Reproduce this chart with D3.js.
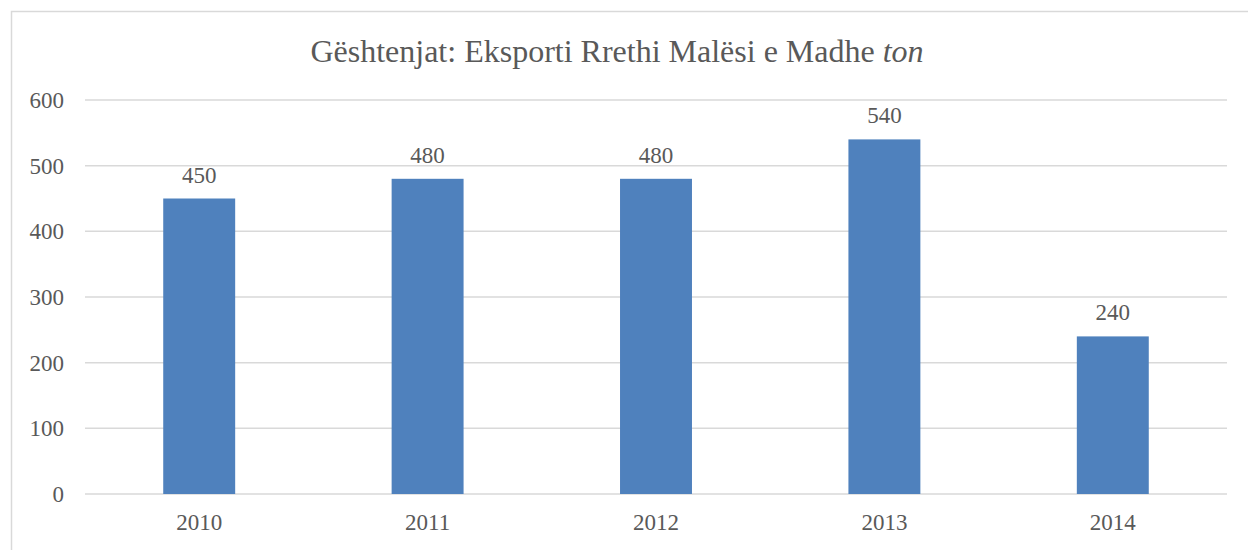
<!DOCTYPE html>
<html>
<head>
  <meta charset="UTF-8">
  <style>
    body { margin: 0; background: #fff; }
    svg text { font-family: "Liberation Serif", "Times New Roman", serif; fill: #595959; }
  </style>
</head>
<body>
<svg></svg>
<script src="https://d3js.org/d3.v7.min.js"></script>
<script>

// chart data
const years = ["2010", "2011", "2012", "2013", "2014"];
const exports = [450, 480, 480, 540, 240];
const yTicks = [0, 100, 200, 300, 400, 500, 600];

let width = 1248, height = 550;

let svg = d3.select("svg")
    .attr("width", width)
    .attr("height", height);

// outer chart border (runs off the right/bottom edge)
svg.append("rect")
    .attr("x", 11.5)
    .attr("y", 11.5)
    .attr("width", 1260)
    .attr("height", 600)
    .attr("fill", "none")
    .attr("stroke", "#d9d9d9")
    .attr("stroke-width", 1.5);

// title, "ton" in italic
let title = svg.append("text")
    .attr("x", 617)
    .attr("y", 62)
    .attr("text-anchor", "middle")
    .style("font-size", "32px");
title.append("tspan").text("Gështenjat: Eksporti Rrethi Malësi e Madhe ");
title.append("tspan").style("font-style", "italic").text("ton");

let x = d3.scaleBand()
    .domain(years)
    .range([85, 1227])
    .paddingInner(0.685)
    .paddingOuter(0.3425);

let y = d3.scaleLinear()
    .domain([0, 600])
    .range([494, 100]);

// gridlines
svg.append("g")
    .selectAll("line")
    .data(yTicks)
    .enter()
    .append("line")
    .attr("x1", 85)
    .attr("x2", 1227)
    .attr("y1", d => y(d))
    .attr("y2", d => y(d))
    .attr("stroke", "#d9d9d9")
    .attr("stroke-width", 1.5);

// y tick labels
svg.append("g")
    .selectAll("text")
    .data(yTicks)
    .enter()
    .append("text")
    .attr("x", 64)
    .attr("y", d => y(d) + 8)
    .attr("text-anchor", "end")
    .style("font-size", "23px")
    .text(d => d);

// bars
svg.append("g")
    .selectAll("rect")
    .data(exports)
    .enter()
    .append("rect")
    .attr("x", (d, i) => x(years[i]))
    .attr("y", d => y(d))
    .attr("width", x.bandwidth())
    .attr("height", d => y(0) - y(d))
    .attr("fill", "#4f81bd");

// value labels
svg.append("g")
    .selectAll("text")
    .data(exports)
    .enter()
    .append("text")
    .attr("x", (d, i) => x(years[i]) + x.bandwidth() / 2)
    .attr("y", d => y(d) - 16)
    .attr("text-anchor", "middle")
    .style("font-size", "23px")
    .text(d => d);

// x category labels
svg.append("g")
    .selectAll("text")
    .data(years)
    .enter()
    .append("text")
    .attr("x", d => x(d) + x.bandwidth() / 2)
    .attr("y", 530)
    .attr("text-anchor", "middle")
    .style("font-size", "23px")
    .text(d => d);

</script>
</body>
</html>
